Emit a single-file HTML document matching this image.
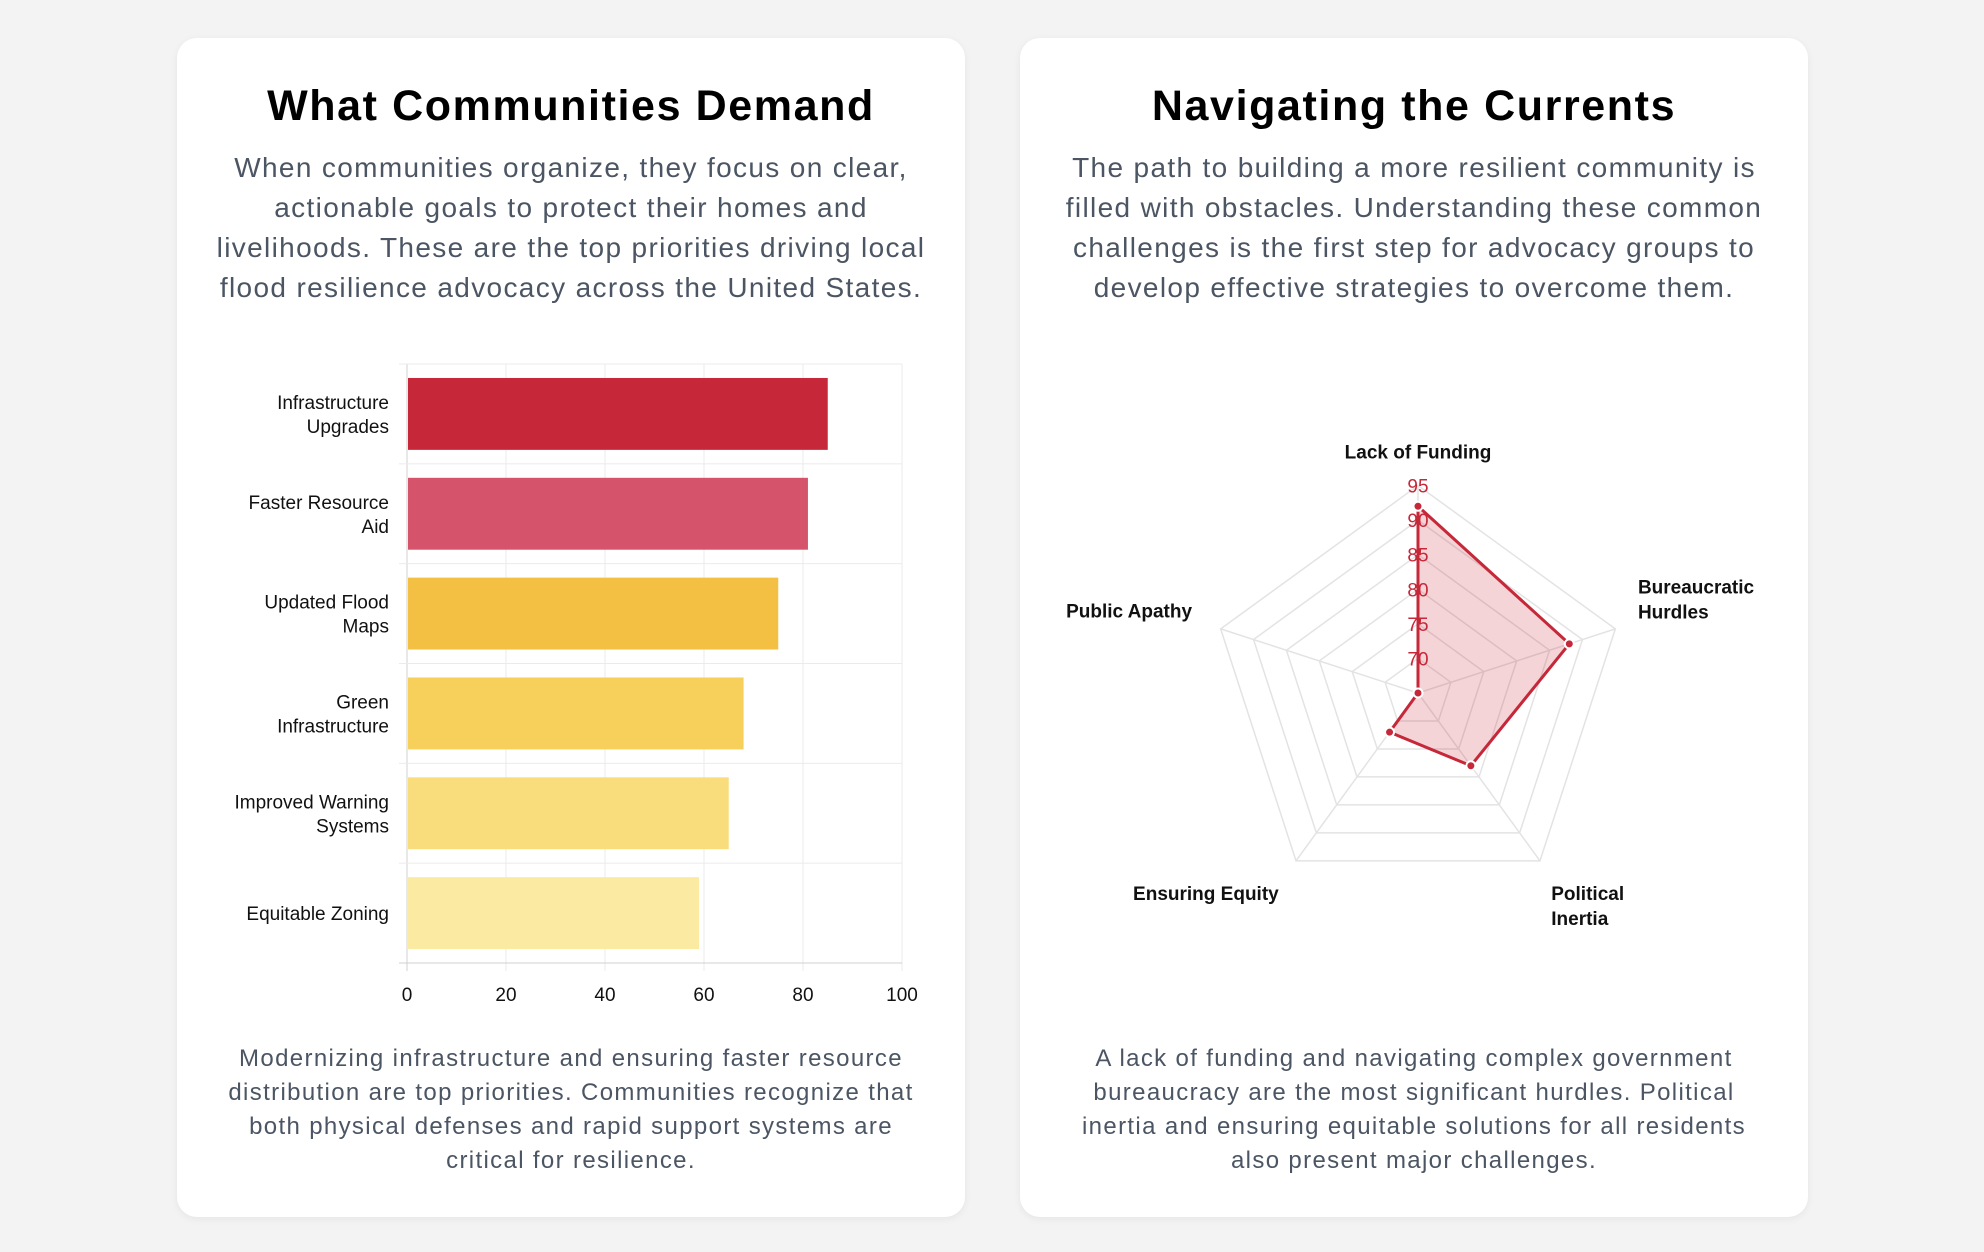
<!DOCTYPE html>
<html><head><meta charset="utf-8">
<style>
html,body{margin:0;padding:0;}
body{width:1984px;height:1252px;background:#f3f3f3;position:relative;overflow:hidden;font-family:"Liberation Sans",sans-serif;}
.card{position:absolute;top:38px;width:788px;height:1179px;background:#fff;border-radius:20px;box-shadow:0 2px 8px rgba(0,0,0,0.06);}
.title{position:absolute;left:0;width:100%;top:80px;text-align:center;font-weight:bold;font-size:43px;color:#000;margin:0;letter-spacing:1.6px;}
.intro{position:absolute;left:20px;width:748px;top:110px;text-align:center;font-size:28px;line-height:40px;color:#4b5563;margin:0;letter-spacing:1.35px;}
.outro{position:absolute;left:20px;width:748px;top:1004px;text-align:center;font-size:24px;line-height:34px;color:#4b5563;margin:0;letter-spacing:1.35px;}
svg{position:absolute;left:0;top:0;}
</style></head><body>
<div class="card" style="left:177px">
  <h1 class="title" style="top:44px">What Communities Demand</h1>
  <p class="intro">When communities organize, they focus on clear,<br>actionable goals to protect their homes and<br>livelihoods. These are the top priorities driving local<br>flood resilience advocacy across the United States.</p>
  <p class="outro">Modernizing infrastructure and ensuring faster resource<br>distribution are top priorities. Communities recognize that<br>both physical defenses and rapid support systems are<br>critical for resilience.</p>
</div>
<div class="card" style="left:1020px">
  <h1 class="title" style="top:44px">Navigating the Currents</h1>
  <p class="intro">The path to building a more resilient community is<br>filled with obstacles. Understanding these common<br>challenges is the first step for advocacy groups to<br>develop effective strategies to overcome them.</p>
  <p class="outro">A lack of funding and navigating complex government<br>bureaucracy are the most significant hurdles. Political<br>inertia and ensuring equitable solutions for all residents<br>also present major challenges.</p>
</div>
<svg id="chart" width="1984" height="1252"></svg>
<script>
const barCategories=[["Infrastructure","Upgrades"],["Faster Resource","Aid"],["Updated Flood","Maps"],["Green","Infrastructure"],["Improved Warning","Systems"],["Equitable Zoning"]];
const barValues=[85,81,75,68,65,59];
const barColors=["#c62839","#d6536c","#f3c044","#f6d05a","#f9dd7c","#fbeaa2"];
const xTicks=[0,20,40,60,80,100];
const radarLabels=[["Lack of Funding"],["Bureaucratic","Hurdles"],["Political","Inertia"],["Ensuring Equity"],["Public Apathy"]];
const radarValues=[92,88,78,72,65];
const radarTicks=[70,75,80,85,90,95];

const NS="http://www.w3.org/2000/svg";
const svg=document.getElementById('chart');
function mk(tag,attrs,parent){const e=document.createElementNS(NS,tag);for(const k in attrs)e.setAttribute(k,attrs[k]);(parent||svg).appendChild(e);return e;}

// Bar chart
const X0=407,X1=902,Y0=364,Y1=963;
const xs=v=>X0+(v-0)/(100-0)*(X1-X0);
const band=(Y1-Y0)/barCategories.length;
const gb=mk('g',{});


xTicks.forEach(t=>{
  const l=mk('line',{x1:xs(t),x2:xs(t),y1:Y0,y2:Y1+8,stroke:t===0?'#d0d0d0':'#ebebeb','stroke-width':1},gb);
  
  
  const tx=mk('text',{x:xs(t),y:Y1+38,'text-anchor':'middle','font-size':19,fill:'#111'},gb);
  tx.textContent=t;
  
  
});
for(let i=0;i<=barCategories.length;i++){
  const y=Y0+i*band;
  const l=mk('line',{x1:X0-8,x2:X1,y1:y,y2:y,stroke:i===barCategories.length?'#d0d0d0':'#ebebeb','stroke-width':1},gb);
  
  
}
barCategories.forEach((c,i)=>{
  const yc=Y0+band*(i+0.5);
  const bh=band*0.72;
  const r=mk('rect',{x:xs(0)+1,y:yc-bh/2,width:xs(barValues[i])-xs(0)-1,height:bh,fill:barColors[i]},gb);
  
  
  const t=mk('text',{x:389,'text-anchor':'end','font-size':19,fill:'#111'},gb);
  
  
  c.forEach((ln,j)=>{const s=mk('tspan',{x:389,y:yc+7+(j-(c.length-1)/2)*24},t);s.textContent=ln;});
});

// Radar chart
const CX=1418,CY=693,R=207.5,RMIN=65,RMAX=95;
const n=radarLabels.length;
const ang=i=>-Math.PI/2+i*2*Math.PI/n;
const rs=v=>(v-RMIN)/(RMAX-RMIN)*R;
const pt=(i,v)=>[CX+rs(v)*Math.cos(ang(i)),CY+rs(v)*Math.sin(ang(i))];
const gr=mk('g',{});


radarTicks.forEach(t=>{
  const p=radarLabels.map((_,i)=>pt(i,t).join(',')).join(' ');
  const g=mk('polygon',{points:p,fill:'none',stroke:'#e3e3e3','stroke-width':1.5},gr);
  
  
});
radarLabels.forEach((_,i)=>{
  const [x,y]=pt(i,RMAX);
  const l=mk('line',{x1:CX,y1:CY,x2:x,y2:y,stroke:'#e3e3e3','stroke-width':1.5},gr);
  
  
});
const poly=mk('polygon',{points:radarValues.map((v,i)=>pt(i,v).join(',')).join(' '),fill:'rgba(198,40,57,0.2)',stroke:'#c62839','stroke-width':3,'stroke-linejoin':'round'},gr);


radarTicks.forEach(t=>{
  const tx=mk('text',{x:CX,y:CY-rs(t)+7,'text-anchor':'middle','font-size':19,fill:'#c62839'},gr);
  tx.textContent=t;
  
  
});
radarValues.forEach((v,i)=>{
  const [x,y]=pt(i,v);
  const c=mk('circle',{cx:x,cy:y,r:4.5,fill:'#c62839',stroke:'#fff','stroke-width':2},gr);
  
  
});
radarLabels.forEach((lab,i)=>{
  let [x,y]=pt(i,RMAX+4.5);
  const ca=Math.cos(ang(i)), sa=Math.sin(ang(i));
  let anchor='middle';
  if(ca>0.2)anchor='start';else if(ca<-0.2)anchor='end';
  if(anchor==='start')x-=7;
  if(anchor==='end')x+=1;
  const t=mk('text',{'text-anchor':anchor,'font-size':19,'font-weight':'bold',fill:'#111'},gr);
  
  
  lab.forEach((ln,j)=>{
    let yy;
    if(sa>0.5) yy=y+14+j*25;
    else if(sa<-0.9) yy=y+4;
    else yy=y-2-(lab.length-1)*24+j*25;
    const s=mk('tspan',{x:x,y:yy},t);s.textContent=ln;
  });
});
</script>
</body></html>
